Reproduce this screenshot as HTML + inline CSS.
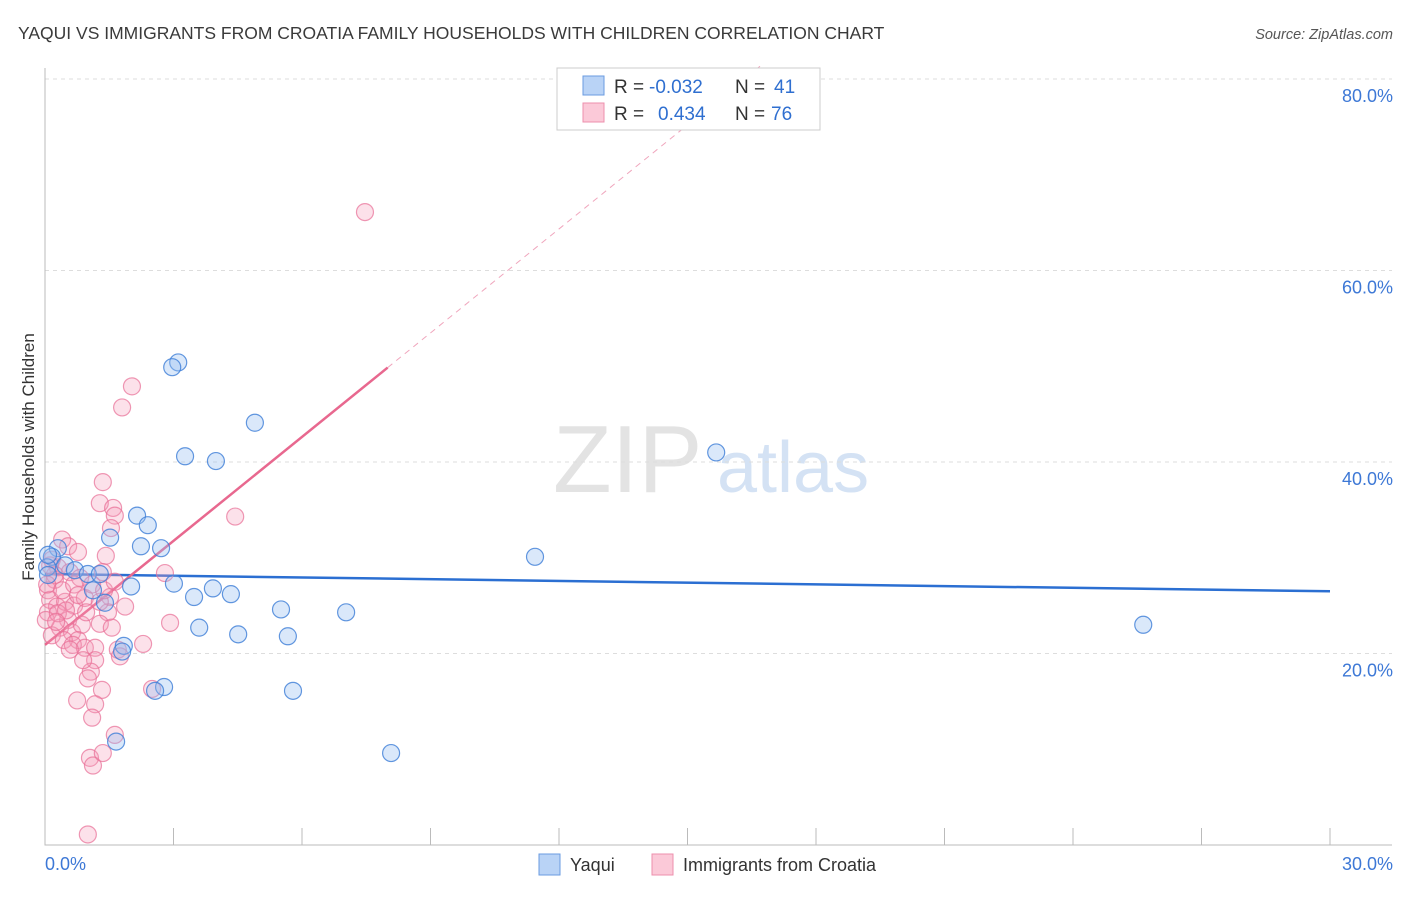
<!DOCTYPE html>
<html><head><meta charset="utf-8"><style>
body{margin:0;background:#fff;font-family:"Liberation Sans",sans-serif;}
svg text{font-family:"Liberation Sans",sans-serif;}
</style></head><body>
<svg id="chart" width="1406" height="892" viewBox="0 0 1406 892" xmlns="http://www.w3.org/2000/svg">
<text x="18" y="39" font-size="17.5" fill="#3a3a3a">YAQUI VS IMMIGRANTS FROM CROATIA FAMILY HOUSEHOLDS WITH CHILDREN CORRELATION CHART</text>
<text x="1393" y="39" font-size="14.5" fill="#555" text-anchor="end" font-style="italic">Source: ZipAtlas.com</text>
<text transform="translate(34,457) rotate(-90)" font-size="17" fill="#333" text-anchor="middle">Family Households with Children</text>
<g>
<text x="553" y="492" font-size="96" fill="#d8d8d8" font-family="Liberation Serif,serif" opacity="0.7">ZIP</text>
<text x="717" y="492" font-size="72" fill="#b8d0ee" opacity="0.6">atlas</text>
</g>
<g id="grid"></g><g id="axes"></g><g id="lines"></g><g id="pts"></g>
<g>
<rect x="557" y="68" width="263" height="62" fill="#fff" stroke="#ccc"/>
<rect x="583" y="76" width="21" height="19" fill="#b9d3f6" stroke="#6a9be0"/>
<rect x="583" y="103" width="21" height="19" fill="#fbc9d8" stroke="#ec8fac"/>
<text x="614" y="93" font-size="19" fill="#333">R = </text><text x="649" y="93" font-size="19" fill="#2f6fd0">-0.032</text>
<text x="735" y="93" font-size="19" fill="#333">N = </text><text x="774" y="93" font-size="19" fill="#2f6fd0">41</text>
<text x="614" y="120" font-size="19" fill="#333">R = </text><text x="658" y="120" font-size="19" fill="#2f6fd0">0.434</text>
<text x="735" y="120" font-size="19" fill="#333">N = </text><text x="771" y="120" font-size="19" fill="#2f6fd0">76</text>
</g>
<g>
<rect x="539" y="854" width="21" height="21" fill="#b9d3f6" stroke="#6a9be0"/>
<text x="570" y="871" font-size="18" fill="#333">Yaqui</text></g>
<g>
<rect x="652" y="854" width="21" height="21" fill="#fbc9d8" stroke="#ec8fac"/>
<text x="683" y="871" font-size="18" fill="#333">Immigrants from Croatia</text></g>
</svg>
<script>
const yTicks=[20,40,60,80];
const yTickLabels=["20.0%","40.0%","60.0%","80.0%"];
const xTickLabels=["0.0%","30.0%"];
const yaquiX=[3.11,2.97,4.90,3.27,3.99,15.67,2.15,2.40,1.52,2.24,2.71,11.44,0.30,0.16,0.47,0.70,1.00,1.28,1.12,1.40,2.01,3.01,3.92,3.48,4.34,5.51,7.03,3.60,4.51,5.67,25.64,1.84,1.80,2.78,2.57,5.79,1.66,8.08,0.05,0.07,0.07];
const yaquiY=[50.4,49.9,44.1,40.6,40.1,41.0,34.4,33.4,32.1,31.2,31.0,30.1,31.0,30.1,29.2,28.7,28.3,28.3,26.6,25.3,27.0,27.3,26.8,25.9,26.2,24.6,24.3,22.7,22.0,21.8,23.0,20.8,20.2,16.5,16.1,16.1,10.8,9.6,29.0,30.3,28.2];
const croX=[7.47,2.03,1.80,1.35,1.28,1.59,1.63,4.44,1.54,1.42,0.40,0.54,0.77,0.16,0.30,0.58,0.82,1.35,1.52,1.87,2.80,1.47,0.23,0.07,0.12,0.28,0.47,0.68,0.93,0.54,0.35,0.63,0.86,0.77,1.28,1.56,0.16,0.44,0.07,0.23,0.05,2.29,0.65,0.93,1.17,1.70,1.75,1.17,2.92,1.07,1.00,1.33,2.50,0.75,1.17,1.10,1.63,1.05,1.12,1.35,1.00,0.02,0.40,0.68,0.30,0.96,1.28,0.49,0.12,0.77,1.10,1.38,0.26,0.58,0.89,1.63];
const croY=[66.1,47.9,45.7,37.9,35.7,35.2,34.4,34.3,33.1,30.2,31.9,31.2,30.6,29.8,29.0,28.5,27.9,28.5,25.9,24.9,28.4,24.3,27.7,26.6,25.6,24.9,25.4,25.0,25.8,23.5,22.7,22.2,23.0,21.4,23.1,22.7,21.9,21.4,24.3,28.2,27.2,21.0,20.9,20.6,20.6,20.4,19.7,19.3,23.2,18.1,17.4,16.2,16.3,15.1,14.7,13.3,11.5,9.1,8.3,9.6,1.1,23.5,26.6,27.2,24.2,24.3,25.4,24.5,29.2,26.1,27.2,26.6,23.3,20.4,19.3,27.5];
const yaquiTrend=[28.3,-0.06];   // intercept, slope
const croTrend=[20.9,3.62];
const X0=45,X1=1330,Y0=845,PY=9.575;
const sx=v=>X0+v*(X1-X0)/30, sy=v=>Y0-v*PY;
const NS="http://www.w3.org/2000/svg";
function mk(tag,attrs,parent){const e=document.createElementNS(NS,tag);for(const k in attrs)e.setAttribute(k,attrs[k]);document.getElementById(parent).appendChild(e);return e;}
yTicks.forEach((t,i)=>{
  const g=mk('line',{x1:X0,x2:1392,y1:sy(t),y2:sy(t),stroke:'#ddd','stroke-dasharray':'4,4'},'grid');
  
  
  const l=mk('text',{x:1393,y:sy(t)+23,'font-size':18,fill:'#3d78d6','text-anchor':'end'},'grid');
  l.textContent=yTickLabels[i];
  
  
});
const ax=mk('path',{d:`M${X0},68V${Y0}H1392`,stroke:'#bbb',fill:'none'},'axes');


for(let k=1;k<=10;k++){
  const t=mk('line',{x1:sx(k*3),x2:sx(k*3),y1:828,y2:Y0,stroke:'#bbb'},'axes');
  
  
}
[[0,'start',45],[30,'end',1393]].forEach((d,i)=>{
  const l=mk('text',{x:d[2],y:870,'font-size':18,fill:'#3d78d6','text-anchor':d[1]},'axes');
  l.textContent=xTickLabels[i];
  
  
});
const bl=mk('line',{x1:sx(0),y1:sy(yaquiTrend[0]),x2:sx(30),y2:sy(yaquiTrend[0]+30*yaquiTrend[1]),stroke:'#2b6fd2','stroke-width':2.5},'lines');


const pEnd=8.0, pDash=16.7;
const pl=mk('line',{x1:sx(0),y1:sy(croTrend[0]),x2:sx(pEnd),y2:sy(croTrend[0]+pEnd*croTrend[1]),stroke:'#e8688f','stroke-width':2.5},'lines');


const pd=mk('line',{x1:sx(pEnd),y1:sy(croTrend[0]+pEnd*croTrend[1]),x2:sx(pDash),y2:sy(croTrend[0]+pDash*croTrend[1]),stroke:'#f0a6bd','stroke-width':1,'stroke-dasharray':'6,5'},'lines');


croX.forEach((x,i)=>{
  const c=mk('circle',{cx:sx(x),cy:sy(croY[i]),r:8.5,fill:'rgba(244,155,185,0.3)',stroke:'rgba(232,110,150,0.7)','stroke-width':1.2},'pts');
  
  
});
yaquiX.forEach((x,i)=>{
  const c=mk('circle',{cx:sx(x),cy:sy(yaquiY[i]),r:8.5,fill:'rgba(150,190,240,0.35)',stroke:'rgba(60,125,215,0.8)','stroke-width':1.2},'pts');
  
  
});
</script>
</body></html>
